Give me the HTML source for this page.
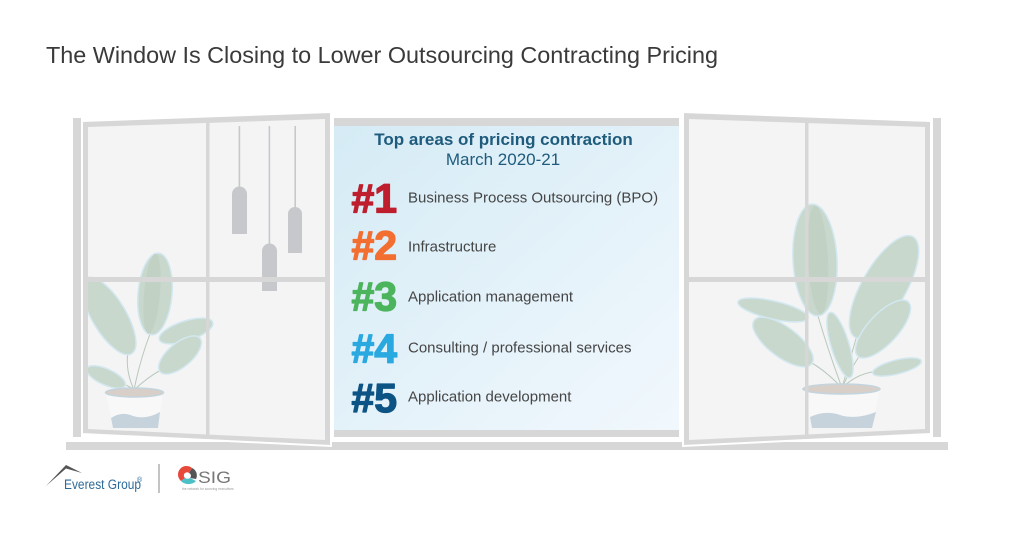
<!DOCTYPE html>
<html><head><meta charset="utf-8">
<style>
html,body{margin:0;padding:0;background:#fff;}
svg{display:block;}
text{font-family:"Liberation Sans",Arial,sans-serif;}
</style></head>
<body>
<svg width="1024" height="536" viewBox="0 0 1024 536" xmlns="http://www.w3.org/2000/svg">
<defs>
<linearGradient id="pg" x1="0" y1="0" x2="1" y2="1">
<stop offset="0" stop-color="#d5ebf5"/>
<stop offset="1" stop-color="#f1f8fd"/>
</linearGradient>
</defs>
<rect width="1024" height="536" fill="#fff"/>

<text x="46" y="63" font-size="23.4" fill="#3a3a3a" textLength="672" lengthAdjust="spacingAndGlyphs">The Window Is Closing to Lower Outsourcing Contracting Pricing</text>

<!-- sill -->
<rect x="66" y="442" width="882" height="8" fill="#d7d7d7"/>
<!-- outer strips -->
<rect x="73" y="118" width="8" height="319" fill="#d7d7d7"/>
<rect x="933" y="118" width="8" height="319" fill="#d7d7d7"/>

<!-- center panel -->
<rect x="334" y="118" width="345" height="8" fill="#d7d7d7"/>
<rect x="334" y="126" width="345" height="304" fill="url(#pg)"/>
<rect x="334" y="430" width="345" height="7" fill="#d7d7d7"/>

<!-- left sash -->
<polygon points="82,121 331,112 331,446 82,434" fill="#d7d7d7" stroke="#fff" stroke-width="2"/>
<polygon points="88,127 325,119 325,440 88,429" fill="#f4f4f4"/>
<!-- lamps -->
<g fill="#c6c8cc" stroke="none">
<rect x="238.6" y="126" width="1.6" height="62"/>
<path d="M232,234 V194 a7.5,7.5 0 0 1 15,0 V234Z"/>
<rect x="268.6" y="126" width="1.6" height="120"/>
<path d="M262,291 V251 a7.5,7.5 0 0 1 15,0 V291Z"/>
<rect x="294.4" y="126" width="1.6" height="82"/>
<path d="M288,253 V214 a7,7 0 0 1 14,0 V253Z"/>
</g>
<!-- left plant -->
<svg x="88" y="127" width="237" height="302" viewBox="88 127 237 302" overflow="hidden">
<g stroke="#b8c8bc" stroke-width="1" fill="none">
<path d="M134,390 Q140,360 150,334"/>
<path d="M134,390 Q125,370 128,352"/>
<path d="M134,390 Q150,375 165,368"/>
<path d="M134,390 Q128,385 122,384"/>
</g>
<g fill="#c9d8cc" stroke="#d2e8f1" stroke-width="1.5">
<ellipse cx="109" cy="316" rx="17" ry="44" transform="rotate(-31 109 316)"/>
<ellipse cx="155" cy="294" rx="17" ry="41" transform="rotate(5 155 294)"/>
<ellipse cx="186" cy="331" rx="28" ry="10" transform="rotate(-18 186 331)"/>
<ellipse cx="180" cy="355" rx="26" ry="12" transform="rotate(-40 180 355)"/>
<ellipse cx="106" cy="377" rx="21" ry="8" transform="rotate(24 106 377)"/>
</g>
<ellipse cx="152" cy="294" rx="8" ry="40" transform="rotate(5 155 294)" fill="#c1d1c4"/>
<!-- left pot -->
<path d="M106,393 L113,428 L158,428 L163,393Z" fill="#f8f8f8"/>
<path d="M111,418 Q122,411 133,416 Q146,420 160,412 L158,428 L113,428Z" fill="#c6d3dc"/>
<ellipse cx="134.5" cy="392.5" rx="29" ry="4.5" fill="#d8d0c8" stroke="#c3d4de" stroke-width="1.5"/>
</svg>
<!-- left mullions -->
<rect x="206" y="119" width="3.5" height="317" fill="#d7d7d7"/>
<rect x="88" y="277" width="237" height="5" fill="#d7d7d7"/>

<!-- right sash -->
<polygon points="683,112 931,121 931,434 683,446" fill="#d7d7d7" stroke="#fff" stroke-width="2"/>
<polygon points="689,119 925,127 925,429 689,440" fill="#f4f4f4"/>
<!-- right plant -->
<svg x="689" y="119" width="236" height="320" viewBox="689 119 236 320" overflow="hidden">
<g stroke="#b8c8bc" stroke-width="1" fill="none">
<path d="M842,388 Q828,350 818,316"/>
<path d="M842,388 Q850,360 857,335"/>
<path d="M842,388 Q825,370 810,362"/>
<path d="M842,388 Q855,375 872,372"/>
<path d="M842,388 Q850,370 860,355"/>
</g>
<g fill="#c9d8cc" stroke="#d2e8f1" stroke-width="1.5">
<ellipse cx="773" cy="310" rx="36" ry="9" transform="rotate(13 773 310)"/>
<ellipse cx="783" cy="342" rx="36" ry="15" transform="rotate(37 783 342)"/>
<ellipse cx="840" cy="345" rx="9" ry="34" transform="rotate(-17 840 345)"/>
<ellipse cx="815" cy="260" rx="22" ry="56" transform="rotate(-3 815 260)"/>
<ellipse cx="884" cy="287" rx="22" ry="58" transform="rotate(30 884 287)"/>
<ellipse cx="883" cy="329" rx="15" ry="37" transform="rotate(43 883 329)"/>
<ellipse cx="897" cy="367" rx="25" ry="7" transform="rotate(-14 897 367)"/>
</g>
<ellipse cx="818" cy="260" rx="10" ry="54" transform="rotate(-3 815 260)" fill="#c1d1c4"/>
<!-- right pot -->
<path d="M803,389 L812,428 L872,428 L880,389Z" fill="#f8f8f8"/>
<path d="M810,417 Q825,410 840,415 Q856,420 876,412 L872,428 L812,428Z" fill="#c6d3dc"/>
<ellipse cx="841.5" cy="389" rx="38.5" ry="5" fill="#d8d0c8" stroke="#c3d4de" stroke-width="1.5"/>
</svg>
<!-- right mullions -->
<rect x="805" y="119" width="3.5" height="317" fill="#d7d7d7"/>
<rect x="689" y="277" width="236" height="5" fill="#d7d7d7"/>

<!-- panel text -->
<text x="503.5" y="145" font-size="17" font-weight="bold" fill="#1e5b7c" text-anchor="middle">Top areas of pricing contraction</text>
<text x="503" y="165" font-size="17" fill="#1e5b7c" text-anchor="middle">March 2020-21</text>

<g font-size="41" font-weight="bold" stroke-width="1.3" stroke-linejoin="round">
<text x="351.5" y="212.5" fill="#be1e2d" stroke="#be1e2d">#1</text>
<text x="351.5" y="259.5" fill="#f26f31" stroke="#f26f31">#2</text>
<text x="351.5" y="310.5" fill="#4cb45c" stroke="#4cb45c">#3</text>
<text x="351.5" y="362.5" fill="#2aa9e0" stroke="#2aa9e0">#4</text>
<text x="351.5" y="412" fill="#0d5485" stroke="#0d5485">#5</text>
</g>
<g font-size="15" fill="#454545">
<text x="408" y="202.7">Business Process Outsourcing (BPO)</text>
<text x="408" y="251.7">Infrastructure</text>
<text x="408" y="301.7">Application management</text>
<text x="408" y="352.3">Consulting / professional services</text>
<text x="408" y="401.7">Application development</text>
</g>

<!-- logos -->
<polygon points="46,486 66,465 82,473 66,468.5" fill="#555"/>
<text x="64" y="489" font-size="13.5" fill="#2d6a9a" textLength="77" lengthAdjust="spacingAndGlyphs">Everest Group</text>
<text x="137" y="482" font-size="7" fill="#2d6a9a">®</text>
<rect x="158.5" y="464" width="1" height="29" fill="#888"/>
<g>
<path d="M181,481 A8,8 0 0 1 192,468 L189,473 A3,3 0 0 0 185,478Z" fill="#e74a3b"/>
<path d="M192,468 A8,8 0 0 1 196,479 L190,478 A3,3 0 0 0 189,473Z" fill="#555"/>
<path d="M181,481 A9,7 0 0 0 196,481 L190,478 A4,3 0 0 1 185,478Z" fill="#4dbfc7"/>
</g>
<text x="198" y="483" font-size="16.5" fill="#777" textLength="33" lengthAdjust="spacingAndGlyphs">SIG</text>
<text x="182" y="490" font-size="3.3" fill="#999">the network for sourcing executives</text>
</svg>
</body></html>
